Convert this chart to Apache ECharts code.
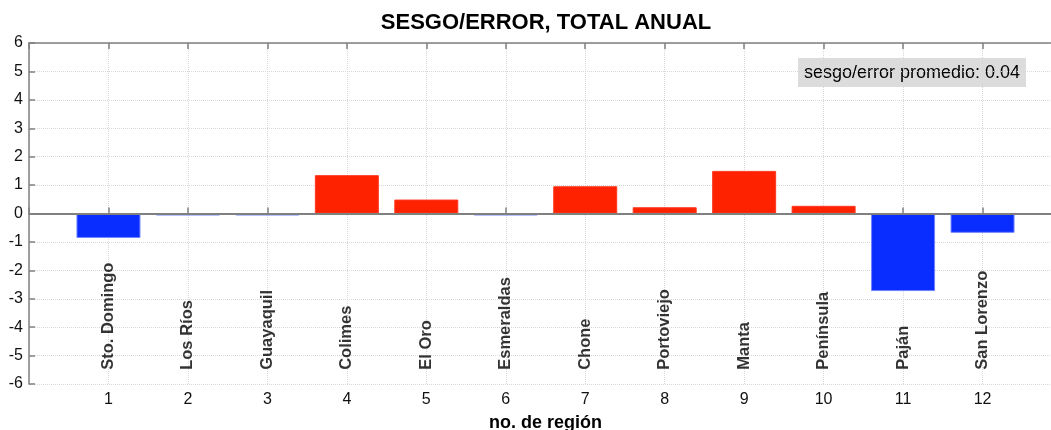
<!DOCTYPE html>
<html>
<head>
<meta charset="utf-8">
<script src="https://cdn.jsdelivr.net/npm/echarts@6/dist/echarts.min.js"></script>
<style>
html,body{margin:0;padding:0;background:#fff;}
#chart{width:1051px;height:430px;}
</style>
</head>
<body>
<div id="chart"></div>
<script>
const regionNumbers = [1,2,3,4,5,6,7,8,9,10,11,12];
const regionNames = ['Sto. Domingo','Los Ríos','Guayaquil','Colimes','El Oro','Esmeraldas','Chone','Portoviejo','Manta','Península','Paján','San Lorenzo'];
const biasValues = [-0.86,-0.02,-0.07,1.35,0.49,-0.02,0.96,0.22,1.50,0.27,-2.73,-0.68];
const yTicks = [-6,-5,-4,-3,-2,-1,0,1,2,3,4,5,6];
const titleText = 'SESGO/ERROR, TOTAL ANUAL';
const xLabelText = 'no. de región';
const noteText = 'sesgo/error promedio: 0.04';

const FONT = 'Liberation Sans, Arial, Helvetica, sans-serif';
const chart = echarts.init(document.getElementById('chart'));

const barData = regionNumbers.map((n,i)=>({
  value:[n, biasValues[i]],
  itemStyle:{
    color: biasValues[i] >= 0 ? '#ff2200' : '#0a2dff',
    borderColor: biasValues[i] >= 0 ? '#ff3a20' : '#6f84ff',
    borderWidth: 1
  }
}));
const labelData = regionNumbers.map((n,i)=>({value:[n,-5.5], name: regionNames[i]}));

chart.setOption({
  animation:false,
  title:{
    text:titleText, left:541, textAlign:'center', top:7,
    textStyle:{fontFamily:FONT, fontWeight:'bold', fontSize:22, color:'#000'}
  },
  grid:{left:29, width:1033, top:43, height:341, containLabel:false, outerBoundsMode:'none'},
  xAxis:[{
    type:'value', min:0, max:13, interval:1, position:'bottom',
    name:xLabelText, nameLocation:'middle', nameGap:30,
    nameTextStyle:{fontFamily:FONT, fontWeight:'bold', fontSize:18, color:'#000'},
    axisLine:{show:true, lineStyle:{color:'#808080', width:1.5}},
    axisTick:{show:true, inside:true, length:6, lineStyle:{color:'#808080', width:1.5}},
    axisLabel:{fontFamily:FONT, fontSize:16, color:'#111', margin:8,
      formatter:v=> (v>=1 && v<=12) ? String(v) : ''},
    splitLine:{show:true, lineStyle:{color:'#d8d8d8', type:'dotted', width:1}}
  },{
    type:'value', min:0, max:13, interval:1, position:'top',
    axisLine:{show:true, lineStyle:{color:'#808080', width:1.5}},
    axisTick:{show:true, inside:true, length:6, lineStyle:{color:'#808080', width:1.5}},
    axisLabel:{show:false}, splitLine:{show:false}
  }],
  yAxis:{
    type:'value', min:-6, max:6, interval:1,
    axisLine:{show:true, lineStyle:{color:'#808080', width:1.5}},
    axisTick:{show:true, inside:true, length:6, lineStyle:{color:'#808080', width:1.5}},
    axisLabel:{fontFamily:FONT, fontSize:16, color:'#111', margin:6,
      formatter:v=> yTicks.includes(v) ? String(v) : ''},
    splitLine:{show:true, lineStyle:{color:'#d8d8d8', type:'dotted', width:1}}
  },
  graphic:[{
    type:'group', left:798, top:58,
    children:[
      {type:'rect', shape:{x:0,y:0,width:228,height:29}, style:{fill:'#dcdcdc'}},
      {type:'text', style:{x:114, y:15, text:noteText, textAlign:'center', textVerticalAlign:'middle',
        font:'18px '+FONT, fill:'#000'}}
    ]
  }],
  series:[{
    type:'bar', data:barData, barWidth:64, xAxisIndex:0, barMinHeight:2,
    markLine:{silent:true, symbol:'none', label:{show:false},
      lineStyle:{color:'#808080', width:2, type:'solid'},
      data:[{yAxis:0}]}
  },{
    type:'scatter', data:labelData, symbolSize:0, xAxisIndex:0, silent:true,
    label:{show:true, position:'inside', rotate:90, align:'left', verticalAlign:'middle',
      formatter:p=>p.name, fontFamily:FONT, fontWeight:'bold', fontSize:16.5, color:'#000'}
  }]
});
</script>
</body>
</html>
